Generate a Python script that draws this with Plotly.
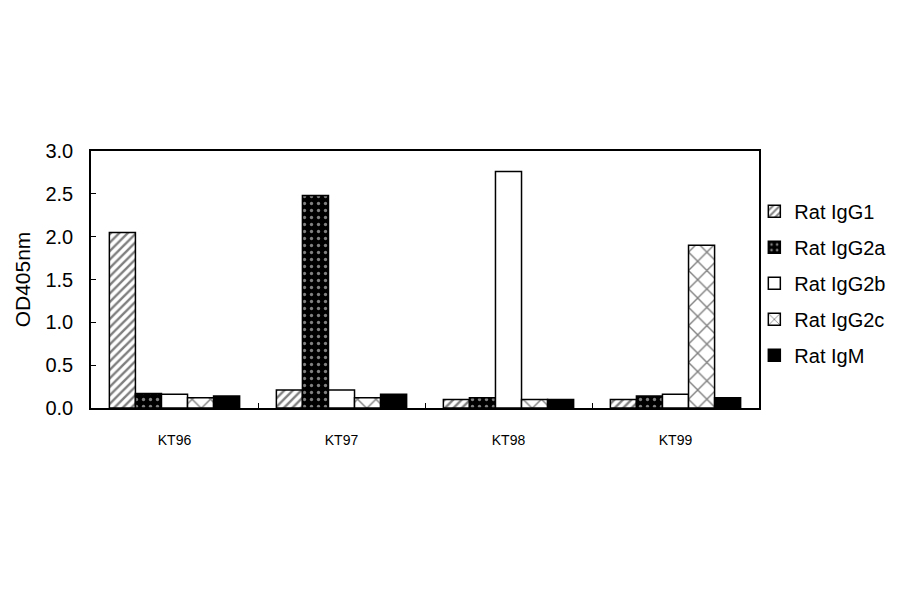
"""
OD405nm isotype ELISA bar chart
"""

import plotly.graph_objects as go

CLONES = ['KT96', 'KT97', 'KT98', 'KT99']

RAT_IGG1 = [2.05, 0.21, 0.10, 0.10]
RAT_IGG2A = [0.17, 2.48, 0.12, 0.14]
RAT_IGG2B = [0.16, 0.21, 2.76, 0.16]
RAT_IGG2C = [0.12, 0.12, 0.10, 1.90]
RAT_IGM = [0.14, 0.16, 0.10, 0.12]

SERIES = [
    ('Rat IgG1', RAT_IGG1, dict(shape='/', fgcolor='black', bgcolor='white', size=6, solidity=0.4)),
    ('Rat IgG2a', RAT_IGG2A, dict(shape='.', fgcolor='white', bgcolor='black', size=7, solidity=0.18)),
    ('Rat IgG2b', RAT_IGG2B, dict(shape='', bgcolor='white')),
    ('Rat IgG2c', RAT_IGG2C, dict(shape='x', fgcolor='black', bgcolor='white', size=13, solidity=0.2)),
    ('Rat IgM', RAT_IGM, dict(shape='', bgcolor='black')),
]

fig = go.Figure()
for name, vals, pat in SERIES:
    fig.add_trace(go.Bar(
        x=CLONES, y=vals, name=name, legendgroup=name,
        marker=dict(color=pat['bgcolor'], pattern=pat,
                    line=dict(color='black', width=1.5)),
    ))

axis_font = dict(family='Arial, Liberation Sans, sans-serif', color='black')

# page body adds ~8px offset, margins compensate
fig.update_layout(
    width=900, height=594,
    margin=dict(l=83, r=149, t=143, b=194, autoexpand=False),
    plot_bgcolor='white', paper_bgcolor='white',
    barmode='group', bargap=0.22, bargroupgap=0,
    font=dict(family='Arial, Liberation Sans, sans-serif', color='black', size=16),
    legend=dict(x=0.993, y=0.485, yanchor='middle', xanchor='left',
                bgcolor='rgba(0,0,0,0)',
                font=dict(size=20), tracegroupgap=7,
                itemwidth=30),
    showlegend=True,
)
fig.update_xaxes(
    showline=True, linecolor='black', linewidth=1.5, mirror=True,
    ticks='inside', tickson='boundaries', ticklen=5, tickcolor='black',
    tickfont=dict(size=14, **axis_font), ticklabelstandoff=18,
)
fig.update_yaxes(
    range=[0, 3.0], dtick=0.5, tickformat='.1f',
    showline=True, linecolor='black', linewidth=1.5, mirror=True,
    ticks='inside', ticklen=5, tickcolor='black', showgrid=False,
    zeroline=False,
    tickfont=dict(size=20, **axis_font), ticklabelstandoff=12,
    title=dict(text='OD405nm', font=dict(size=21, **axis_font), standoff=9),
)

fig.write_html("out.html")
